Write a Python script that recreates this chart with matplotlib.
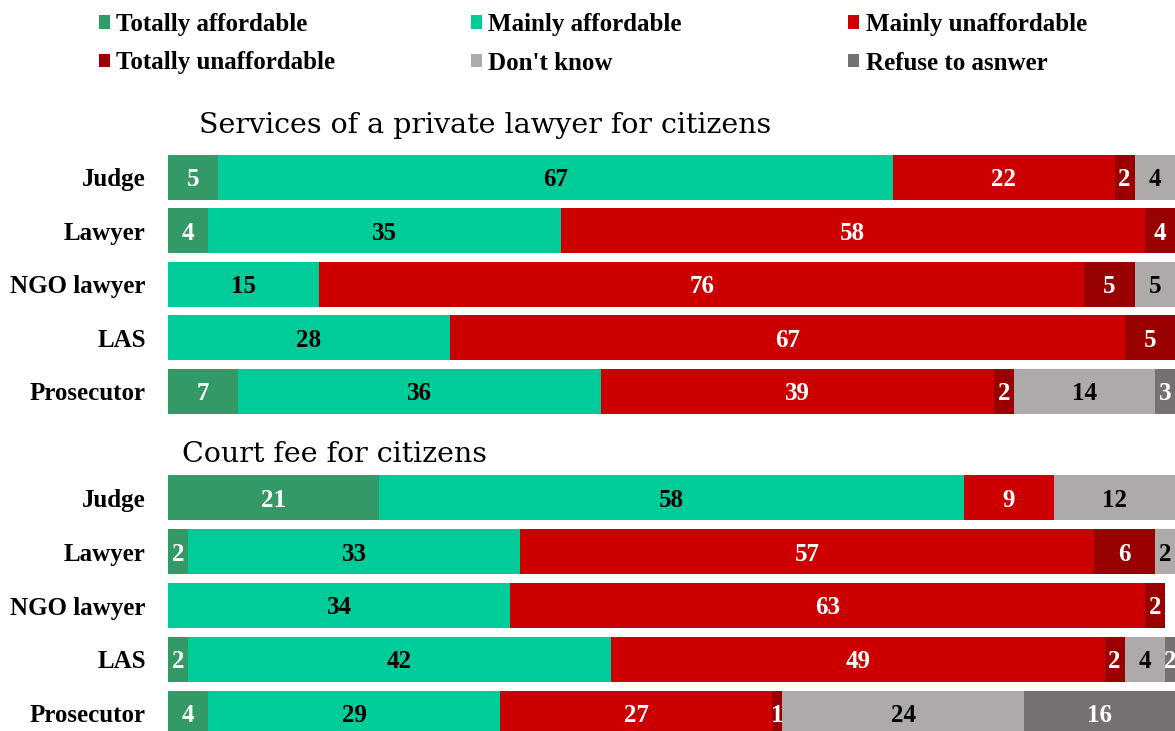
import matplotlib
matplotlib.use("Agg")
import matplotlib.pyplot as plt
from matplotlib.patches import Patch

plt.rcParams['font.family'] = ['Liberation Serif', 'DejaVu Serif']

respondents = ["Judge", "Lawyer", "NGO lawyer", "LAS", "Prosecutor"]
answers = ["Totally affordable", "Mainly affordable", "Mainly unaffordable",
           "Totally unaffordable", "Don't know", "Refuse to asnwer"]
colors = ["#339966", "#00CC99", "#CC0000", "#990000", "#AEAAAA", "#767171"]
text_colors = ["white", "black", "white", "white", "black", "white"]

# percentages per answer, one value per respondent group (0 = not shown)
lawyer_totally_aff = [5, 4, 0, 0, 7]
lawyer_mainly_aff = [67, 35, 15, 28, 36]
lawyer_mainly_unaff = [22, 58, 76, 67, 39]
lawyer_totally_unaff = [2, 4, 5, 5, 2]
lawyer_dont_know = [4, 0, 5, 0, 14]
lawyer_refuse = [0, 0, 0, 0, 3]

court_totally_aff = [21, 2, 0, 2, 4]
court_mainly_aff = [58, 33, 34, 42, 29]
court_mainly_unaff = [9, 57, 63, 49, 27]
court_totally_unaff = [0, 6, 2, 2, 1]
court_dont_know = [12, 2, 0, 4, 24]
court_refuse = [0, 0, 0, 2, 16]

lawyer_data = [lawyer_totally_aff, lawyer_mainly_aff, lawyer_mainly_unaff,
               lawyer_totally_unaff, lawyer_dont_know, lawyer_refuse]
court_data = [court_totally_aff, court_mainly_aff, court_mainly_unaff,
              court_totally_unaff, court_dont_know, court_refuse]

fig = plt.figure(figsize=(11.75, 7.31), dpi=100)
W, H = 1175, 731
FS = 18


def px_axes(x0, y_top, y_bot):
    return fig.add_axes([x0 / W, 1 - y_bot / H, 1 - x0 / W, (y_bot - y_top) / H])


def draw_panel(ax, data):
    y = list(range(len(respondents)))
    left = [0] * len(respondents)
    for vals, col, tcol in zip(data, colors, text_colors):
        bars = ax.barh(y, vals, left=left, height=0.84, color=col, linewidth=0)
        labels = [str(v) if v > 0 else "" for v in vals]
        txts = ax.bar_label(bars, labels=labels, label_type="center", color=tcol,
                            fontsize=FS, fontweight="bold")
        for t in txts:
            t.set_va("center_baseline")
        left = [a + b for a, b in zip(left, vals)]
    ax.set_xlim(0, 100)
    ax.set_ylim(len(respondents) - 0.5, -0.5)
    ax.set_yticks(y)
    ax.set_yticklabels(respondents, fontsize=FS, fontweight="bold")
    ax.tick_params(axis="y", length=0, pad=16)
    ax.set_xticks([])
    for s in ax.spines.values():
        s.set_visible(False)


ax1 = px_axes(168, 150.5, 418)
draw_panel(ax1, lawyer_data)
ax2 = px_axes(168, 471, 740)
draw_panel(ax2, court_data)

fig.text(199 / W, 1 - 133 / H, "Services of a private lawyer for citizens",
         fontsize=20.5, va="baseline", ha="left", family="DejaVu Serif")
fig.text(182 / W, 1 - 462 / H, "Court fee for citizens",
         fontsize=20.5, va="baseline", ha="left", family="DejaVu Serif")

# legend: three columns of two entries
col_x = [99, 471, 848]
for c in range(3):
    idx = [c, c + 3]
    handles = [Patch(facecolor=colors[i], edgecolor="none") for i in idx]
    fig.legend(handles, [answers[i] for i in idx], loc="upper left",
               bbox_to_anchor=(col_x[c] / W, 1 - 13 / H), frameon=False,
               prop={"size": FS, "weight": "bold"}, handlelength=0.45,
               handleheight=0.45, handletextpad=0.25, labelspacing=0.62,
               borderpad=0, borderaxespad=0)

fig.savefig("out.png", dpi=100)
